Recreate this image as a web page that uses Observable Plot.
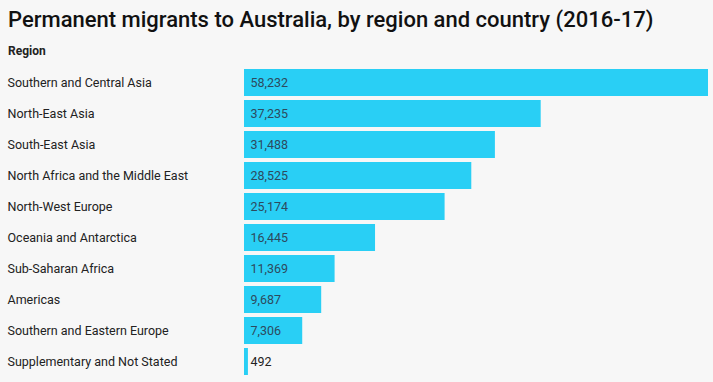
<!DOCTYPE html>
<html>
<head>
<meta charset="utf-8">
<script src="https://cdn.jsdelivr.net/npm/d3@7"></script>
<script src="https://cdn.jsdelivr.net/npm/@observablehq/plot@0.6"></script>
<style>
  html, body { margin: 0; padding: 0; background: #f7f7f7; width: 713px; height: 382px; overflow: hidden; }
  #title { position: absolute; left: 8px; top: 7px; font-family: Roboto, sans-serif; font-size: 22px; font-weight: 500; color: #111; white-space: nowrap; }
  #sub { position: absolute; left: 8px; top: 44px; font-family: Roboto, sans-serif; font-size: 12px; font-weight: bold; color: #222; }
  #chart { position: absolute; left: 0; top: 67px; }
</style>
</head>
<body>
<div id="title">Permanent migrants to Australia, by region and country (2016-17)</div>
<div id="sub">Region</div>
<div id="chart"></div>
<script>
const regions = [
  "Southern and Central Asia",
  "North-East Asia",
  "South-East Asia",
  "North Africa and the Middle East",
  "North-West Europe",
  "Oceania and Antarctica",
  "Sub-Saharan Africa",
  "Americas",
  "Southern and Eastern Europe",
  "Supplementary and Not Stated"
];
const migrants = [58232, 37235, 31488, 28525, 25174, 16445, 11369, 9687, 7306, 492];

const data = regions.map((r, i) => ({region: r, value: migrants[i]}));
const fmt = d3.format(",");

const chart = Plot.plot({
  width: 713,
  height: 315,
  marginLeft: 244,
  marginRight: 5,
  marginTop: 0,
  marginBottom: 5,
  style: {background: "transparent", fontFamily: "Roboto, sans-serif", fontSize: "12px", color: "#222"},
  x: {domain: [0, 58232], axis: null},
  y: {domain: regions, paddingInner: 0.13, paddingOuter: 0.065, label: null},
  marks: [
    Plot.axisY({tickSize: 0, textAnchor: "start", dx: -228, label: null, fontSize: 12.5, fill: "#222"}),
    Plot.barX(data, {x: "value", y: "region", fill: "#29cff5"}),
    Plot.text(data, {
      x: 0, y: "region", text: d => fmt(d.value), textAnchor: "start",
      dx: 6, fontSize: 12.5,
      fill: d => d.value > 3000 ? "#2d4a5e" : "#222"
    })
  ]
});
document.getElementById("chart").appendChild(chart);
</script>
</body>
</html>
